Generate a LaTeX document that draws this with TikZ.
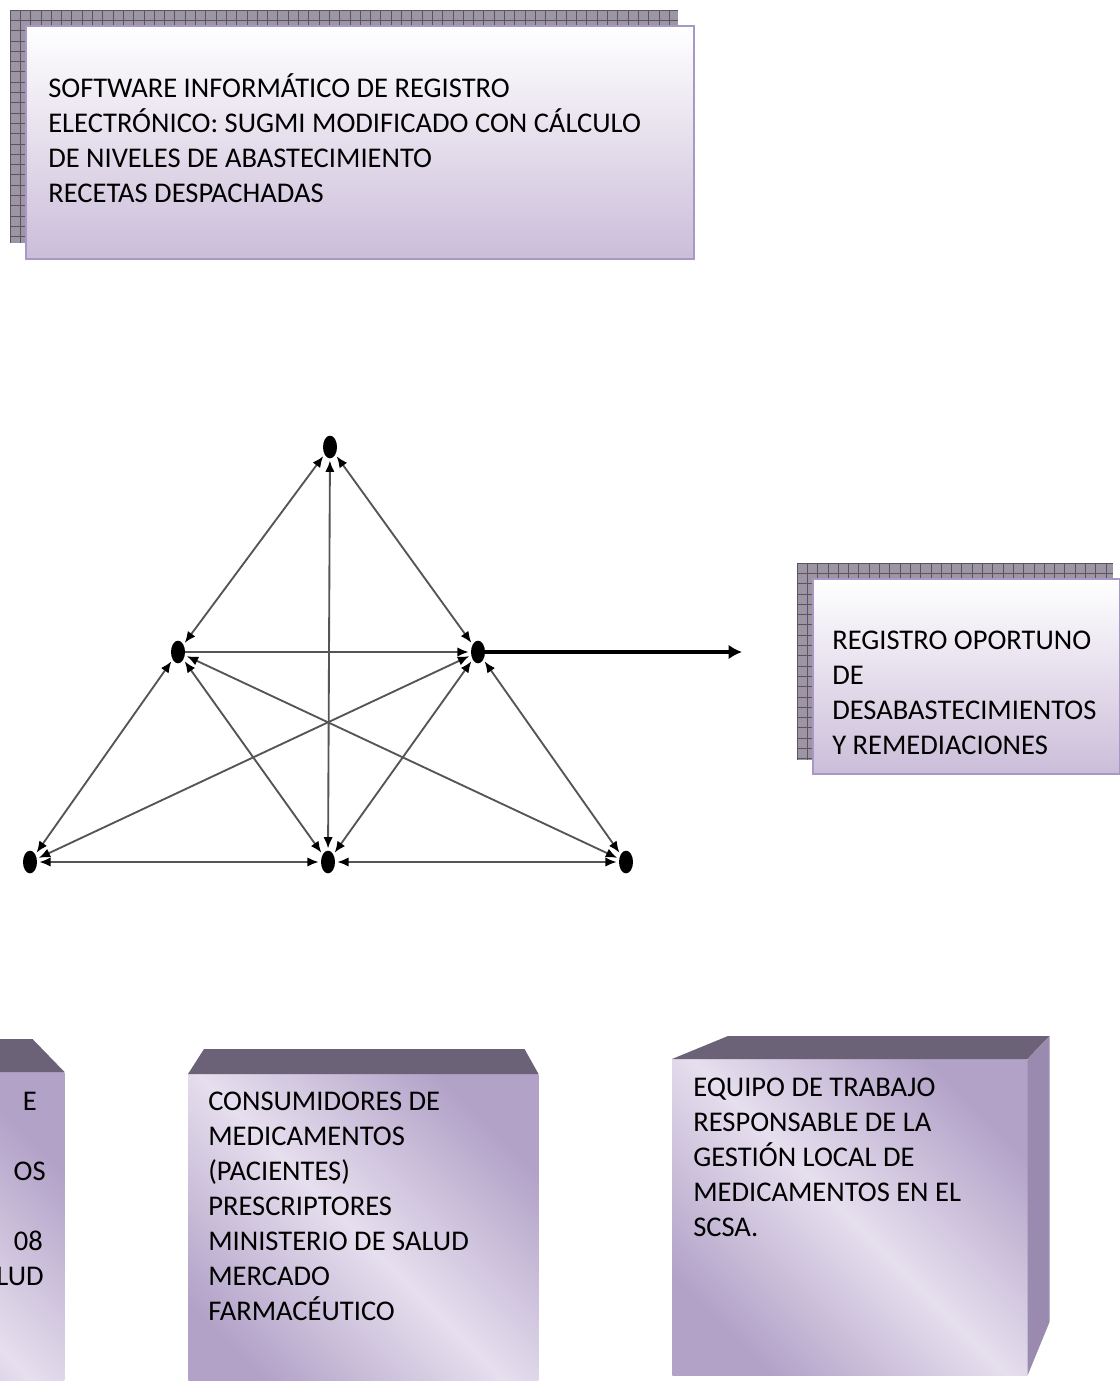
\documentclass[tikz,border=0pt]{standalone}
\usepackage{fontspec}
\setmainfont{Carlito}
\usetikzlibrary{arrows.meta, positioning, shapes.geometric, calc}

\definecolor{shadefill}{HTML}{9D95A3}
\definecolor{shadegrid}{HTML}{5A5460}
\definecolor{boxedge}{HTML}{A898C6}
\definecolor{boxlow}{HTML}{CBBDD9}
\definecolor{cubetop}{HTML}{6B6278}
\definecolor{cubeside}{HTML}{9B8AAF}
\definecolor{cubedark}{HTML}{B2A2C8}
\definecolor{cubelight}{HTML}{E6DFEE}
\definecolor{edgegray}{HTML}{555555}

\pgfdeclarehorizontalshading{cubeshade}{100bp}{color(0bp)=(cubedark); color(25bp)=(cubedark); color(50bp)=(cubelight); color(75bp)=(cubedark); color(100bp)=(cubedark)}

\begin{document}
\begin{tikzpicture}[
  x=0.75pt, y=-0.75pt,
  font=\fontsize{21.4pt}{26.25pt}\selectfont,
  shadowgrid/.style={draw=shadegrid, line width=0.6pt},
  panel/.style={draw=boxedge, line width=1.5pt, top color=white, bottom color=boxlow, inner sep=0pt, anchor=north west},
  cube/.style={shading=cubeshade, shading angle=45, inner sep=0pt, anchor=north west},
  txt/.style={align=left, anchor=base west, inner sep=0pt},
  frag/.style={anchor=base east, inner sep=0pt},
  dot/.style={ellipse, fill=black, minimum width=10.5pt, minimum height=17pt, inner sep=0pt},
  link/.style={{Latex[length=8.5pt,width=7pt,color=black]}-{Latex[length=8.5pt,width=7pt,color=black]}, draw=edgegray, line width=1.4pt, shorten >=1.5pt, shorten <=1.5pt},
  oneway/.style={-{Latex[length=8.5pt,width=7pt,color=black]}, draw=edgegray, line width=1.4pt, shorten >=1.5pt},
  bigarrow/.style={-{Latex[length=10pt,width=11pt]}, line width=3.2pt}
]
\clip (0,0) rectangle (1120,1381);

% =========================
% Top box: software
% =========================
\fill[shadefill] (10,10) rectangle (678,243);
\begin{scope}
  \clip (10,10) rectangle (678,243);
  \foreach \gx in {0,...,65} \draw[shadowgrid] (10+\gx*10.3,10) -- ++(0,233);
  \foreach \gy in {0,...,22} \draw[shadowgrid] (10,10+\gy*10.3) -- ++(668,0);
\end{scope}
\node[panel, minimum width=501pt, minimum height=174.75pt] (software) at (25,25) {};
% (base = last line)
\node[txt] (softwaretxt) at (48,202) {SOFTWARE INFORMÁTICO DE REGISTRO\\
ELECTRÓNICO: SUGMI MODIFICADO CON CÁLCULO\\
DE NIVELES DE ABASTECIMIENTO\\
RECETAS DESPACHADAS};

% =========================
% Right box: result
% =========================
\fill[shadefill] (797,563) rectangle (1113,760);
\begin{scope}
  \clip (797,563) rectangle (1113,760);
  \foreach \gx in {0,...,31} \draw[shadowgrid] (797+\gx*10.3,563) -- ++(0,197);
  \foreach \gy in {0,...,19} \draw[shadowgrid] (797,563+\gy*10.3) -- ++(316,0);
\end{scope}
\node[panel, minimum width=230.25pt, minimum height=146.25pt] (registro) at (812,578) {};
\node[txt] (registrotxt) at (832,754) {REGISTRO OPORTUNO\\
DE\\
DESABASTECIMIENTOS\\
Y REMEDIACIONES};

% =========================
% Network
% =========================
\node[dot] (apex) at (330,447) {};
\node[dot] (midl) at (178,652) {};
\node[dot] (midr) at (478,652) {};
\node[dot] (botl) at (30,862) {};
\node[dot] (botm) at (328,862) {};
\node[dot] (botr) at (626,862) {};
\coordinate (arrowend) at (742,652);

\draw[link] (apex) -- (midl);
\draw[link] (apex) -- (midr);
\draw[link] (apex) -- (botm);
\draw[oneway] (midl) -- (midr);
\draw[link] (midl) -- (botl);
\draw[link] (midl) -- (botm);
\draw[link] (midl) -- (botr);
\draw[link] (midr) -- (botl);
\draw[link] (midr) -- (botm);
\draw[link] (midr) -- (botr);
\draw[link] (botl) -- (botm);
\draw[link] (botm) -- (botr);

\draw[bigarrow] (midr) -- (arrowend);

% =========================
% Bottom cubes
% =========================
\node[cube, minimum width=262.5pt, minimum height=247.5pt] (sources) at (-286,1072) {};
\fill[cubetop] (sources.north west) -- ++(16,-33) -- ($(sources.north east)+(-32,-33)$) -- (sources.north east) -- cycle;
\node[frag] (srcE) at (37,1110) {E};
\node[frag] (srcOS) at (46,1180) {OS};
\node[frag] (src08) at (43,1250) {08};
\node[frag] (srcLUD) at (44,1285) {LUD};

\node[cube, minimum width=262.5pt, minimum height=247.5pt] (consumers) at (188,1074) {};
\fill[cubetop] (consumers.north west) -- ++(16,-25) -- ($(consumers.north east)+(-14,-25)$) -- (consumers.north east) -- cycle;
\node[txt] (consumerstxt) at (208,1320) {CONSUMIDORES DE\\
MEDICAMENTOS\\
(PACIENTES)\\
PRESCRIPTORES\\
MINISTERIO DE SALUD\\
MERCADO\\
FARMACÉUTICO};

\node[cube, minimum width=266.25pt, minimum height=237pt] (team) at (672,1059) {};
\fill[cubetop] (team.north west) -- ++(56,-23) -- ($(team.north east)+(22,-23)$) -- (team.north east) -- cycle;
\fill[cubeside] (team.north east) -- ++(22,-23) -- ++(0,286) -- (team.south east) -- cycle;
\node[txt] (teamtxt) at (693,1236) {EQUIPO DE TRABAJO\\
RESPONSABLE DE LA\\
GESTIÓN LOCAL DE\\
MEDICAMENTOS EN EL\\
SCSA.};

\end{tikzpicture}
\end{document}
